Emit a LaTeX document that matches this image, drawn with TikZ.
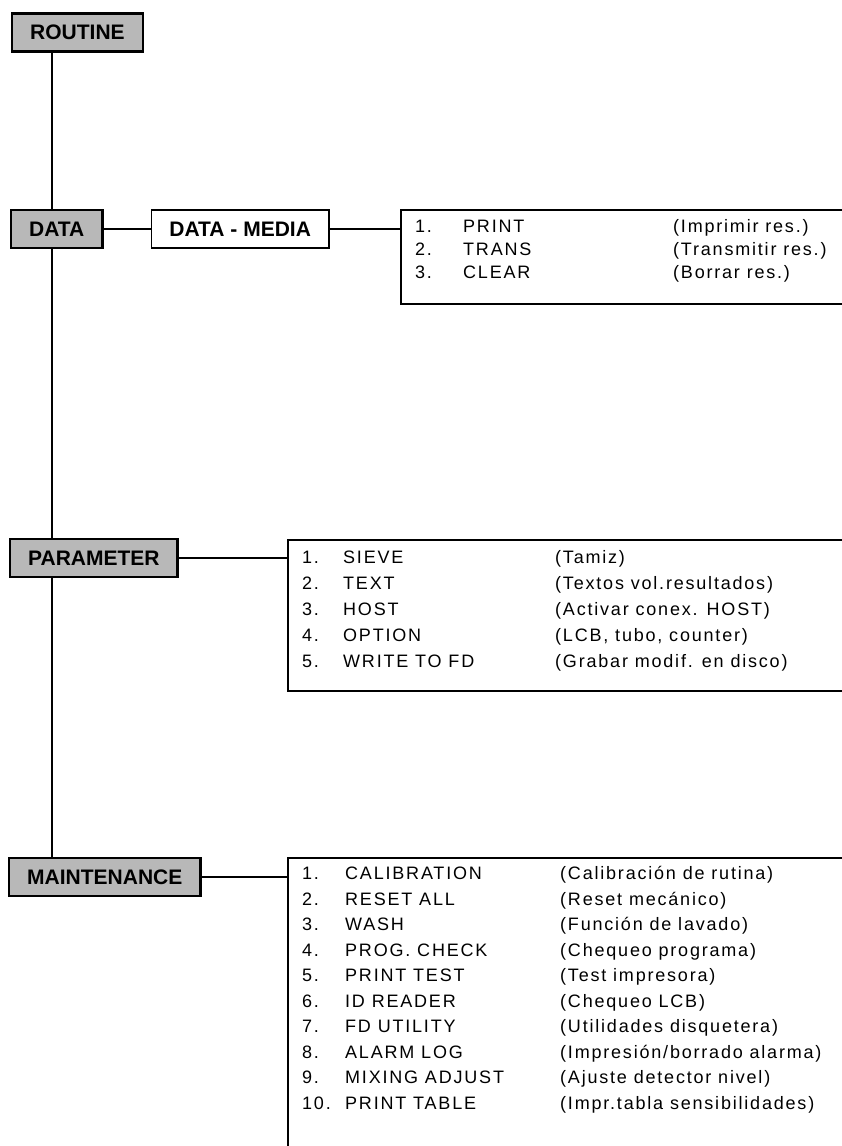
\documentclass[tikz,border=0pt]{standalone}
\usepackage{fontspec}
\setmainfont{Liberation Sans}
\newfontfamily\itemfamily{Liberation Sans}[LetterSpace=10]
\usetikzlibrary{positioning}

\tikzset{
  menu/.style={draw, line width=2.4pt, fill=black!28, anchor=west,
               font=\fontsize{21}{25}\selectfont\bfseries,
               minimum height=38pt, inner xsep=18pt, inner ysep=0pt},
  submenu/.style={menu, fill=white, line width=1.6pt},
  listbox/.style={draw, line width=1.6pt, anchor=north west,
                  minimum width=600pt, inner sep=0pt},
  entry/.style={anchor=base west, inner sep=0pt,
                font=\itemfamily\fontsize{18}{22}\selectfont},
  link/.style={line width=1.5pt},
}

\begin{document}
\begin{tikzpicture}[x=1pt,y=-1pt]
	\useasboundingbox (0,0) rectangle (842,1146);
	\clip (0,0) rectangle (842,1146);
	% main menu column
	\node[menu]	(routine)	at (11,32.5)	{ROUTINE};
	\node[menu]	(data)		at (10,229)	{DATA};
	\node[menu]	(parameter)	at (9,558)	{PARAMETER};
	\node[menu]	(maintenance)	at (8,877)	{MAINTENANCE};
	\coordinate (spine) at (52,0);
	\draw[link]	(routine.south -| spine)	-- (data.north -| spine)
			(data.south -| spine)		-- (parameter.north -| spine)
			(parameter.south -| spine)	-- (maintenance.north -| spine);
	% sub menu and option lists
	\node[submenu, right=47pt of data]	(media)	{DATA - MEDIA};
	\node[listbox, minimum height=94pt]	(datalist)	at (400,209)	{};
	\node[listbox, minimum height=151pt]	(paramlist)	at (287,539)	{};
	\node[listbox, minimum height=400pt]	(maintlist)	at (287,857)	{};
	\draw[link]	(data.east)		-- (media.west)
			(media.east)		-- (media.east -| datalist.west)
			(parameter.east)	-- (parameter.east -| paramlist.west)
			(maintenance.east)	-- (maintenance.east -| maintlist.west);
	% entries
	\foreach \nm/\dsc [count=\i] in {PRINT/(Imprimir res.), TRANS/(Transmitir res.),
			CLEAR/(Borrar res.)}{
		\pgfmathsetmacro\yy{232.5+23*(\i-1)}
		\node[entry]	(datanum\i)	at (415,\yy)	{\i.};
		\node[entry]	(dataname\i)	at (463,\yy)	{\nm};
		\node[entry]	(datadesc\i)	at (673,\yy)	{\dsc};
	}
	\foreach \nm/\dsc [count=\i] in {SIEVE/(Tamiz), TEXT/(Textos vol.resultados),
			HOST/(Activar conex. HOST), OPTION/{(LCB, tubo, counter)},
			WRITE TO FD/(Grabar modif. en disco)}{
		\pgfmathsetmacro\yy{563.5+26*(\i-1)}
		\node[entry]	(paramnum\i)	at (302,\yy)	{\i.};
		\node[entry]	(paramname\i)	at (343,\yy)	{\nm};
		\node[entry]	(paramdesc\i)	at (555,\yy)	{\dsc};
	}
	\foreach \nm/\dsc [count=\i] in {CALIBRATION/(Calibración de rutina),
			RESET ALL/(Reset mecánico), WASH/(Función de lavado),
			PROG. CHECK/(Chequeo programa), PRINT TEST/(Test impresora),
			ID READER/(Chequeo LCB), FD UTILITY/(Utilidades disquetera),
			ALARM LOG/{(Impresión/borrado alarma)},
			MIXING ADJUST/(Ajuste detector nivel),
			PRINT TABLE/(Impr.tabla sensibilidades)}{
		\pgfmathsetmacro\yy{879.5+25.5*(\i-1)}
		\node[entry]	(maintnum\i)	at (302,\yy)	{\i.};
		\node[entry]	(maintname\i)	at (345,\yy)	{\nm};
		\node[entry]	(maintdesc\i)	at (560,\yy)	{\dsc};
	}
\end{tikzpicture}
\end{document}
